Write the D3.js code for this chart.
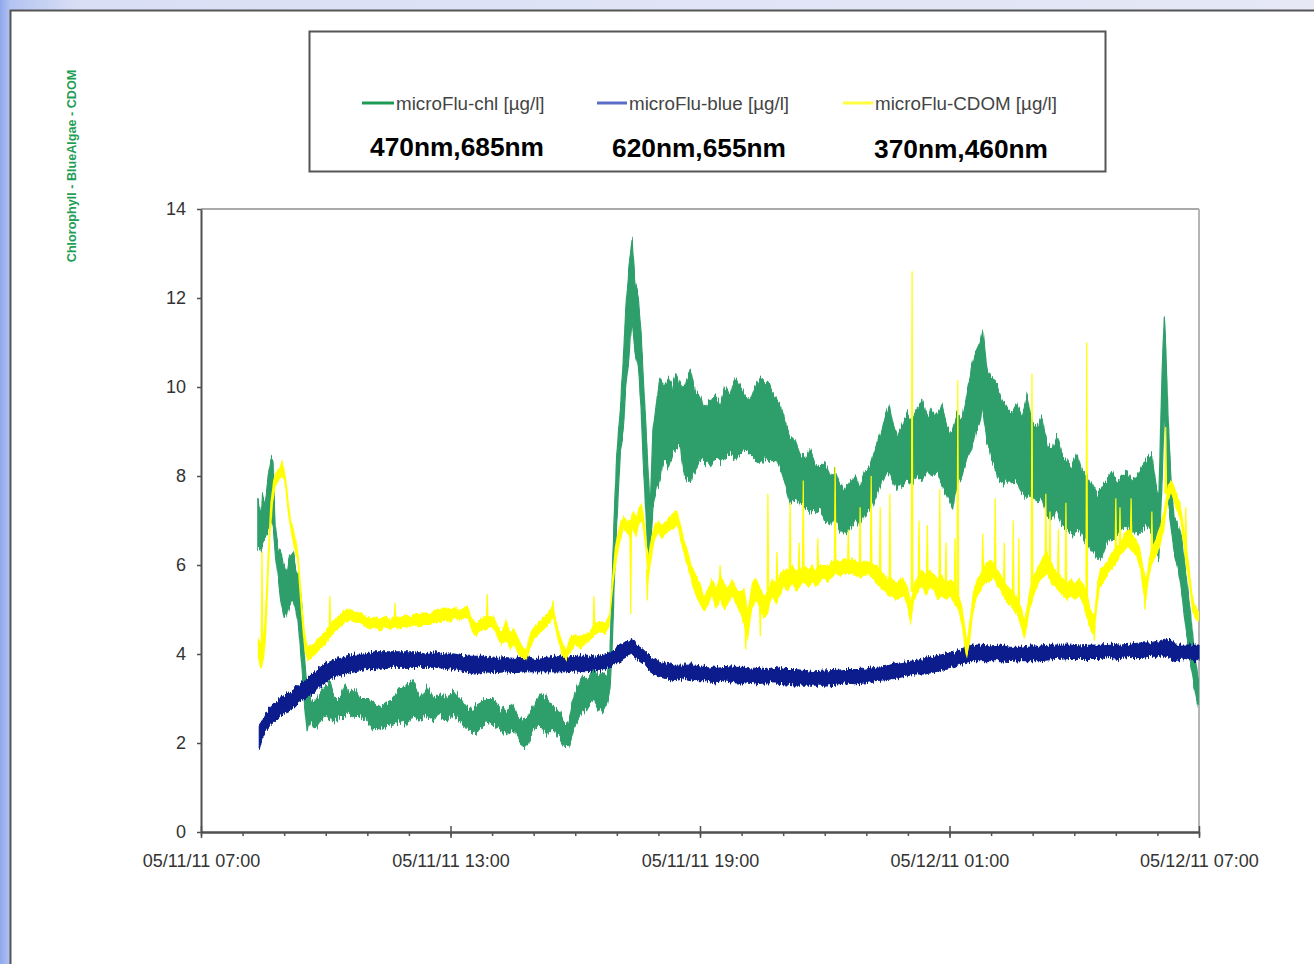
<!DOCTYPE html>
<html><head><meta charset="utf-8">
<script src="https://cdn.jsdelivr.net/npm/d3@7"></script>
<style>html,body{margin:0;padding:0;background:#fff;overflow:hidden}svg{display:block}</style>
</head><body><svg id="c" width="1314" height="964"></svg>
<script>
// ---------------- DATA (time = minutes after 05/11/11 07:00) ----------------
const seriesNames = ["microFlu-chl [µg/l]", "microFlu-blue [µg/l]", "microFlu-CDOM [µg/l]"];
const seriesWaves = ["470nm,685nm", "620nm,655nm", "370nm,460nm"];
const yTicks = [0, 2, 4, 6, 8, 10, 12, 14];
const xTickLabels = ["05/11/11 07:00", "05/11/11 13:00", "05/11/11 19:00", "05/12/11 01:00", "05/12/11 07:00"];
const axisTitle = "Chlorophyll - BlueAlgae - CDOM";

const chlT = [82,87,89,92,97,101,104,107,111,115,120,124,128,133,137,141,146,149,153,159,164,172,179,186,193,201,208,215,222,229,240,248,258,268,277,287,297,306,316,326,335,345,355,364,374,384,392,403,413,421,431,442,450,457,465,472,479,489,499,508,518,525,531,537,544,551,558,566,573,580,586,590,593,596,600,605,609,613,618,622,626,631,635,639,644,648,652,657,662,668,674,680,685,691,698,706,713,720,727,734,742,749,756,763,771,778,785,792,799,807,814,821,828,835,843,850,857,864,872,879,886,893,900,908,915,922,929,936,944,951,958,965,973,980,987,993,998,1004,1011,1019,1026,1033,1040,1048,1055,1062,1069,1076,1084,1091,1098,1105,1112,1118,1124,1128,1134,1141,1149,1156,1163,1170,1177,1185,1192,1199,1206,1213,1221,1228,1235,1242,1250,1257,1264,1271,1278,1286,1293,1300,1307,1314,1322,1329,1336,1343,1351,1358,1365,1372,1378,1382,1387,1390,1392,1395,1400,1404,1410,1415,1421,1427,1433,1439];
const chlLo = [6.4,6.3,6.5,6.6,6.8,7.0,6.9,6.3,5.8,5.2,4.8,4.9,5.1,5.2,5.0,4.6,3.6,2.9,2.3,2.5,2.3,2.5,2.6,2.5,2.5,2.6,2.6,2.7,2.6,2.6,2.5,2.3,2.3,2.4,2.4,2.5,2.4,2.6,2.5,2.6,2.5,2.6,2.5,2.6,2.5,2.3,2.2,2.3,2.5,2.4,2.3,2.2,2.3,2.1,1.9,2.0,2.3,2.4,2.2,2.3,2.1,1.9,1.9,2.3,2.5,2.7,2.8,3.0,2.8,2.7,2.9,3.2,4.0,5.5,7.0,8.5,9.0,10.0,10.8,11.5,10.8,10.5,9.5,8.0,6.5,6.1,7.3,7.7,7.9,8.4,8.2,8.5,8.6,8.7,8.0,7.9,8.1,8.4,8.3,8.2,8.4,8.3,8.4,8.5,8.4,8.5,8.6,8.5,8.4,8.3,8.4,8.3,8.4,8.2,7.8,7.4,7.5,7.4,7.3,7.2,7.2,7.3,7.0,6.9,7.1,6.8,6.7,6.8,7.0,6.9,7.1,7.2,7.5,7.8,8.0,8.1,7.9,7.7,7.8,7.9,7.8,8.0,7.9,8.1,8.0,8.1,7.8,7.6,7.3,7.8,8.0,8.4,8.6,9.0,9.2,9.5,8.8,8.4,8.0,7.8,7.9,7.8,7.9,7.6,7.5,7.6,7.4,7.5,7.1,7.0,7.2,6.9,6.8,6.7,6.8,6.7,6.5,6.3,6.2,6.2,6.5,6.6,6.6,6.8,6.9,6.7,6.7,6.8,6.9,6.7,6.3,6.1,8.0,9.5,9.0,7.5,6.8,6.3,5.9,5.4,4.6,3.9,3.3,2.8];
const chlHi = [7.5,7.2,7.6,7.3,8.0,8.4,8.3,6.9,6.4,6.3,6.0,5.8,6.2,6.3,5.9,5.8,5.0,4.0,3.2,3.0,2.9,3.1,3.3,3.4,3.0,3.0,3.3,3.1,3.2,3.0,3.0,2.9,2.8,2.9,3.0,3.2,3.3,3.4,3.0,3.3,3.0,3.1,3.0,3.2,3.0,2.8,2.8,2.9,3.0,3.0,2.8,2.7,2.9,2.6,2.5,2.6,2.8,3.1,3.0,2.8,2.7,2.4,2.5,3.0,3.3,3.5,3.4,3.7,3.5,3.6,3.5,4.0,5.5,7.0,8.5,9.5,10.5,11.8,12.8,13.3,12.4,12.0,11.2,10.0,8.5,7.2,9.0,9.6,10.2,10.0,10.2,10.0,10.3,10.1,10.0,10.4,9.9,9.8,9.5,9.7,9.8,9.6,10.0,9.8,10.2,10.0,9.8,9.7,10.0,10.2,10.1,10.0,9.8,9.6,9.2,8.9,8.8,8.5,8.4,8.6,8.3,8.2,8.3,8.0,8.1,7.8,7.6,7.9,8.0,7.8,8.1,8.2,8.6,8.9,9.3,9.6,9.2,8.9,9.1,9.4,9.2,9.5,9.7,9.3,9.5,9.4,9.6,9.1,9.0,9.4,9.3,9.8,10.4,10.8,11.0,11.3,10.4,10.2,10.0,9.7,9.5,9.4,9.6,9.3,9.8,9.2,9.1,9.3,8.7,8.6,8.9,8.5,8.3,8.2,8.5,8.1,8.0,7.8,7.6,7.7,7.9,8.1,7.9,8.0,8.1,7.9,8.0,8.2,8.4,8.5,7.8,7.5,10.5,11.6,10.9,9.5,7.8,7.1,6.9,6.6,5.8,5.0,4.1,3.4];

const blueT = [84,88,94,100,107,114,123,131,140,150,160,172,183,195,208,222,237,251,265,280,294,309,323,338,352,366,381,395,410,424,439,453,467,482,496,511,525,540,554,568,583,593,605,615,622,629,638,648,658,670,684,698,713,727,742,756,771,785,799,814,828,843,857,872,886,900,915,929,944,958,973,987,1001,1016,1030,1045,1059,1074,1088,1102,1112,1124,1138,1153,1167,1182,1196,1211,1225,1239,1254,1268,1283,1297,1312,1326,1340,1355,1369,1384,1394,1405,1420,1431,1440];
const blueLo = [1.85,2.1,2.3,2.4,2.5,2.6,2.7,2.75,2.9,3.0,3.1,3.3,3.4,3.5,3.55,3.6,3.65,3.65,3.7,3.7,3.7,3.7,3.7,3.7,3.68,3.65,3.6,3.55,3.6,3.58,3.6,3.58,3.6,3.6,3.6,3.6,3.6,3.62,3.6,3.62,3.65,3.75,3.85,3.95,4.0,3.9,3.8,3.6,3.5,3.45,3.4,3.45,3.4,3.4,3.35,3.4,3.35,3.35,3.33,3.35,3.35,3.33,3.3,3.3,3.3,3.3,3.32,3.35,3.33,3.35,3.4,3.42,3.45,3.5,3.55,3.55,3.6,3.65,3.7,3.8,3.85,3.85,3.85,3.85,3.83,3.85,3.85,3.85,3.87,3.88,3.9,3.9,3.9,3.9,3.92,3.9,3.92,3.92,3.95,3.95,3.95,3.85,3.9,3.85,3.85];
const blueHi = [2.4,2.5,2.7,2.8,2.9,3.0,3.1,3.15,3.3,3.4,3.55,3.7,3.8,3.9,3.95,4.0,4.0,4.05,4.05,4.05,4.05,4.05,4.0,4.05,4.0,4.0,3.95,3.95,3.95,3.9,3.92,3.9,3.95,3.9,3.92,3.95,3.92,3.95,3.95,3.95,4.0,4.05,4.2,4.3,4.35,4.2,4.1,3.95,3.85,3.8,3.75,3.75,3.75,3.72,3.7,3.72,3.7,3.7,3.68,3.65,3.7,3.65,3.65,3.63,3.6,3.62,3.63,3.65,3.65,3.66,3.7,3.72,3.78,3.82,3.85,3.9,3.95,4.0,4.05,4.12,4.2,4.2,4.18,4.2,4.15,4.15,4.18,4.18,4.2,4.2,4.2,4.18,4.2,4.2,4.22,4.2,4.22,4.25,4.25,4.3,4.35,4.2,4.2,4.2,4.2];

const cdomT = [82,85,88,91,94,97,100,104,108,113,117,120,123,126,130,134,139,141,144,147,150,154,160,166,172,179,186,193,201,208,215,222,229,237,244,251,258,265,273,280,287,294,302,309,316,323,330,338,345,352,359,366,374,381,385,391,397,403,410,417,423,429,434,440,446,452,457,463,469,475,480,486,492,498,504,508,512,517,521,527,532,540,547,554,561,568,576,583,589,593,597,602,606,610,615,619,623,628,632,636,641,645,649,654,659,665,671,677,682,687,691,697,703,708,714,720,726,732,737,743,749,755,760,766,772,778,784,789,795,801,807,812,818,824,830,835,841,847,853,859,864,870,876,882,887,893,899,905,910,916,922,928,934,939,945,951,957,962,968,974,980,986,991,997,1003,1009,1014,1020,1024,1029,1035,1040,1046,1052,1058,1063,1069,1075,1081,1087,1092,1098,1102,1105,1110,1114,1120,1125,1131,1137,1143,1149,1154,1160,1166,1172,1177,1183,1188,1192,1196,1202,1209,1215,1221,1226,1232,1238,1244,1250,1255,1261,1267,1273,1278,1284,1289,1293,1297,1303,1309,1314,1320,1326,1332,1338,1343,1349,1355,1359,1364,1368,1372,1378,1384,1390,1395,1400,1404,1408,1413,1417,1421,1426,1430,1434,1440];
const cdomLo = [3.9,3.7,3.7,3.9,4.4,5.5,6.6,7.4,7.8,7.9,8.0,7.9,7.5,7.1,6.7,6.4,6.1,5.6,5.0,4.4,4.0,3.85,3.9,4.0,4.1,4.2,4.35,4.5,4.6,4.7,4.75,4.7,4.7,4.6,4.55,4.6,4.5,4.6,4.55,4.6,4.55,4.6,4.6,4.65,4.6,4.65,4.65,4.7,4.7,4.75,4.7,4.8,4.75,4.8,4.8,4.5,4.4,4.5,4.55,4.6,4.55,4.3,4.2,4.3,4.1,4.2,4.0,3.9,3.85,4.1,4.3,4.4,4.5,4.6,4.7,4.8,4.5,4.2,3.95,3.85,4.0,4.2,4.1,4.2,4.3,4.4,4.5,4.45,4.6,5.2,5.8,6.3,6.6,6.8,6.7,6.6,6.8,6.6,6.9,7.0,6.4,5.6,6.0,6.5,6.7,6.6,6.7,6.8,6.8,6.9,6.6,6.2,5.9,5.6,5.3,5.1,4.95,5.1,5.3,5.0,5.2,5.0,5.1,5.3,5.1,4.9,4.6,4.3,5.0,5.2,5.0,4.8,4.9,5.3,5.1,5.3,5.5,5.4,5.6,5.4,5.5,5.6,5.5,5.6,5.5,5.6,5.7,5.6,5.7,5.8,5.75,5.8,5.8,5.8,5.75,5.7,5.75,5.8,5.7,5.6,5.5,5.4,5.3,5.3,5.2,5.25,5.3,5.0,4.6,5.2,5.4,5.5,5.3,5.5,5.4,5.2,5.3,5.2,5.3,5.1,5.0,4.6,4.1,3.9,4.3,4.9,5.3,5.4,5.6,5.6,5.7,5.5,5.4,5.2,5.1,5.0,4.9,4.6,4.3,4.6,5.0,5.3,5.6,5.7,5.8,5.6,5.5,5.4,5.3,5.2,5.3,5.2,5.3,5.1,4.8,4.5,4.4,5.0,5.5,5.6,5.8,5.9,6.0,6.2,6.3,6.4,6.3,6.2,5.9,5.4,5.2,5.7,6.0,6.2,6.4,6.8,7.4,7.6,7.4,7.2,7.0,6.5,6.0,5.5,5.0,4.8,4.7];
const cdomHi = [4.4,4.3,4.2,4.6,5.5,6.5,7.4,7.9,8.1,8.2,8.35,8.2,7.9,7.5,7.0,6.8,6.4,6.2,5.6,5.0,4.5,4.2,4.2,4.3,4.4,4.5,4.65,4.8,4.9,5.0,5.0,4.95,4.95,4.85,4.8,4.85,4.8,4.85,4.8,4.85,4.85,4.9,4.85,4.9,4.9,4.95,4.9,5.0,5.0,5.05,5.0,5.05,5.0,5.05,5.1,4.8,4.7,4.8,4.85,4.85,4.85,4.6,4.5,4.8,4.5,4.6,4.4,4.2,4.1,4.5,4.6,4.7,4.8,4.9,5.0,5.1,4.8,4.5,4.3,4.1,4.4,4.45,4.4,4.45,4.5,4.7,4.75,4.7,4.9,5.7,6.4,6.8,7.0,7.1,7.0,7.0,7.2,7.1,7.3,7.4,6.9,6.2,6.6,6.9,7.0,6.9,7.0,7.1,7.2,7.25,7.0,6.6,6.3,6.0,5.8,5.6,5.3,5.5,5.7,5.5,5.8,5.6,5.5,5.7,5.5,5.4,5.5,5.0,5.6,5.7,5.5,5.3,5.4,5.7,5.6,5.8,5.9,5.9,6.0,5.9,5.9,6.0,5.9,6.0,5.9,6.0,6.0,6.0,6.1,6.1,6.1,6.15,6.1,6.15,6.1,6.05,6.1,6.1,6.05,6.0,5.9,5.8,5.7,5.7,5.6,5.7,5.7,5.5,5.2,5.6,5.8,5.9,5.8,5.9,5.8,5.7,5.8,5.6,5.7,5.6,5.4,5.1,4.7,4.3,4.9,5.4,5.7,5.8,6.0,6.1,6.1,5.9,5.8,5.6,5.5,5.4,5.3,5.1,4.8,5.1,5.5,5.8,6.0,6.2,6.3,6.1,5.9,5.8,5.7,5.6,5.7,5.6,5.7,5.6,5.4,5.0,4.9,5.6,5.9,6.0,6.1,6.3,6.4,6.5,6.7,6.8,6.7,6.6,6.4,6.0,5.7,6.2,6.4,6.6,6.9,7.3,7.8,7.9,7.8,7.6,7.4,7.0,6.5,6.0,5.4,5.1,4.95];
// narrow excursions of the CDOM trace: time and extreme value
const cdomSpikeT = [88,186,280,413,508,567,620,644,749,786,807,818,831,850,863,869,890,915,934,951,967,980,994,1026,1036,1048,1066,1075,1088,1092,1128,1146,1159,1172,1180,1199,1219,1225,1237,1248,1278,1289,1320,1326,1342,1362,1372,1392,1408,1421];
const cdomSpikeV = [6.3,5.3,5.15,5.35,5.2,5.3,4.9,5.2,6.0,4.1,4.4,7.6,6.3,7.4,6.5,7.9,6.6,8.2,6.8,7.3,8.0,7.3,7.6,12.6,7.0,6.9,7.7,6.5,6.6,10.15,6.7,7.5,6.5,7.0,6.6,10.3,7.6,7.2,6.8,7.4,11.0,4.3,7.5,7.3,7.5,5.0,7.2,9.1,7.6,7.3];

// ---------------- STYLE ----------------
const C_CHL = "#2f9f6b", C_BLUE = "#071a8c", C_CDOM = "#ffff00";
const legendColors = ["#1f9a57", "#5b6cc8", "#ffff40"];
const FONT = "'Liberation Sans', Arial, Helvetica, sans-serif";

const svg = d3.select("#c");
const defs = svg.append("defs");
const gx = defs.append("linearGradient").attr("id", "bgx").attr("x1", 0).attr("x2", 1).attr("y1", 0).attr("y2", 0);
gx.append("stop").attr("offset", "0").attr("stop-color", "#8fa9ee");
gx.append("stop").attr("offset", "0.008").attr("stop-color", "#b4c3f1");
gx.append("stop").attr("offset", "0.06").attr("stop-color", "#d9dff5");
gx.append("stop").attr("offset", "1").attr("stop-color", "#e6e8f6");

// rough-edge rendering filters (visual texture of a densely sampled trace)
function roughFilter(id, freq, scale, seed) {
  const f = defs.append("filter").attr("id", id).attr("x", "-2%").attr("y", "-30%")
    .attr("width", "104%").attr("height", "160%");
  f.append("feTurbulence").attr("type", "fractalNoise").attr("baseFrequency", freq)
    .attr("numOctaves", 2).attr("seed", seed).attr("result", "n");
  f.append("feColorMatrix").attr("in", "n").attr("type", "matrix")
    .attr("values", "0 0 0 0 0.5  0 1 0 0 0  0 0 0 0 0  0 0 0 0 1").attr("result", "m");
  f.append("feDisplacementMap").attr("in", "SourceGraphic").attr("in2", "m")
    .attr("scale", scale).attr("xChannelSelector", "R").attr("yChannelSelector", "G");
}
roughFilter("rGreen", "0.7 0.04", 14, 3);
roughFilter("rBlue", "0.7 0.04", 9, 7);
roughFilter("rYellow", "0.6 0.04", 5, 11);

svg.append("rect").attr("width", 1314).attr("height", 964).attr("fill", "url(#bgx)");
svg.append("rect").attr("x", 10.5).attr("y", 10.5).attr("width", 1320).attr("height", 970)
  .attr("fill", "#fff").attr("stroke", "#555").attr("stroke-width", 2);

const base = new Date(2011, 4, 11, 7, 0);
const tm = m => d3.timeMinute.offset(base, m);
const parseTick = d3.timeParse("%m/%d/%y %H:%M");
const fmtTick = d3.timeFormat("%m/%d/%y %H:%M");
const majors = xTickLabels.map(parseTick);

const x = d3.scaleTime().domain([majors[0], majors[majors.length - 1]]).range([201, 1199]);
const y = d3.scaleLinear().domain([0, 14]).range([832, 209]);

// frame top/right
svg.append("line").attr("x1", 201).attr("x2", 1199).attr("y1", y(14)).attr("y2", y(14)).attr("stroke", "#a9a9a9").attr("stroke-width", 2);
svg.append("line").attr("x1", 1199).attr("x2", 1199).attr("y1", y(14)).attr("y2", y(0)).attr("stroke", "#b5b5b5").attr("stroke-width", 2);

// series
function band(T, L, Hh, color, sw, filt) {
  const d = T.map((t, i) => ({ t: tm(t), lo: L[i], hi: Hh[i] }));
  const area = d3.area().x(p => x(p.t)).y0(p => y(p.lo)).y1(p => y(p.hi));
  const p = svg.append("path").datum(d).attr("d", area).attr("fill", color)
    .attr("stroke-linejoin", "round").attr("filter", `url(#${filt})`);
  if (sw > 0) p.attr("stroke", color).attr("stroke-width", sw);
  return d;
}
band(chlT, chlLo, chlHi, C_CHL, 1.2, "rGreen");
band(blueT, blueLo, blueHi, C_BLUE, 1.0, "rBlue");
const cd = band(cdomT, cdomLo, cdomHi, C_CDOM, 0, "rYellow");
const bis = d3.bisector(p => p.t).left;
const spikes = cdomSpikeT.map((t, i) => {
  const tt = tm(t);
  let k = Math.min(cd.length - 1, Math.max(0, bis(cd, tt)));
  const b = (cd[k].lo + cd[k].hi) / 2;
  return { t: tt, b: b, v: cdomSpikeV[i] };
});
svg.append("g").selectAll("path").data(spikes).join("path")
  .attr("d", s => `M${x(s.t) - 0.8},${y(s.b)}L${x(s.t)},${y(s.v)}L${x(s.t) + 0.8},${y(s.b)}`)
  .attr("fill", C_CDOM).attr("stroke", C_CDOM).attr("stroke-width", 1.2);

// axes
const axisColor = "#505050";
const yAx = svg.append("g").attr("transform", "translate(201,0)")
  .call(d3.axisLeft(y).tickValues(yTicks).tickSize(4).tickSizeOuter(0).tickPadding(11).tickFormat(d3.format("d")));
const hours = d3.timeHour.range(majors[0], d3.timeMinute.offset(majors[4], 1));
const xMinor = svg.append("g").attr("transform", "translate(0,832)")
  .call(d3.axisBottom(x).tickValues(hours).tickSize(4).tickSizeOuter(0).tickFormat(""));
const xAx = svg.append("g").attr("transform", "translate(0,832)")
  .call(d3.axisBottom(x).tickValues(majors).tickSize(6).tickSizeOuter(0).tickPadding(16).tickFormat(fmtTick));
xAx.selectAll(".tick line").attr("y1", -6);
[yAx, xMinor, xAx].forEach(a => {
  a.select(".domain").attr("stroke", axisColor).attr("stroke-width", 2);
  a.selectAll(".tick line").attr("stroke", axisColor).attr("stroke-width", 1.5);
  a.selectAll("text").attr("fill", "#333").style("font-family", FONT).style("font-size", "18px");
});

// axis title
svg.append("text").attr("transform", "translate(76,166) rotate(-90)")
  .attr("text-anchor", "middle").attr("fill", "#1f9e55")
  .style("font-family", FONT).style("font-weight", "bold").style("font-size", "12.6px")
  .text(axisTitle);

// legend
svg.append("rect").attr("x", 309.5).attr("y", 31.5).attr("width", 796).attr("height", 140)
  .attr("fill", "#fff").attr("stroke", "#555").attr("stroke-width", 2);
const lgX = [362, 597, 843], lgW = [32, 30, 30], wvX = [370, 612, 874], wvY = [156, 157, 158];
seriesNames.forEach((n, i) => {
  svg.append("line").attr("x1", lgX[i]).attr("x2", lgX[i] + lgW[i]).attr("y1", 103).attr("y2", 103)
    .attr("stroke", legendColors[i]).attr("stroke-width", 3);
  svg.append("text").attr("x", lgX[i] + lgW[i] + 2).attr("y", 110).attr("fill", "#444")
    .style("font-family", FONT).style("font-size", "18.8px").text(n);
  svg.append("text").attr("x", wvX[i]).attr("y", wvY[i]).attr("fill", "#000")
    .style("font-family", FONT).style("font-weight", "bold").style("font-size", "26.3px").text(seriesWaves[i]);
});
</script></body></html>
